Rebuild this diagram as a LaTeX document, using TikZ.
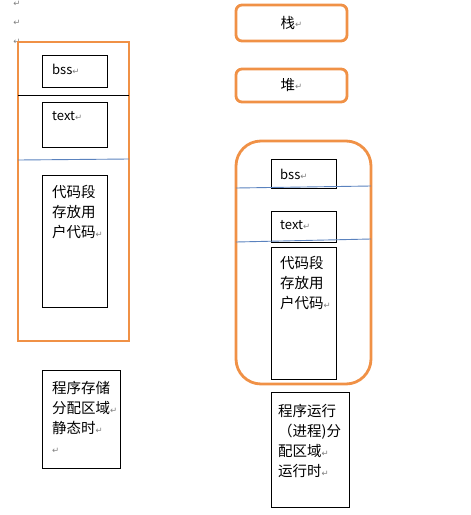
\documentclass[tikz,border=0pt]{standalone}
\usepackage{fontspec}
\setmainfont{Noto Sans CJK SC}
\newfontfamily\markfont{DejaVu Sans}
\usetikzlibrary{positioning}

\definecolor{memorange}{RGB}{240,145,70}
\definecolor{sepblue}{RGB}{90,130,190}
\newcommand{\pmark}{{\markfont\color{gray}\fontsize{8.5}{8.5}\selectfont ↵}}

\begin{document}
\begin{tikzpicture}[%
      x=1pt, y=-1pt,                          % pixel-like coordinates
      font=\fontsize{14.5}{20}\selectfont,
      node distance=9pt and 10pt,
      ]
  \tikzset{
    mem/.style={draw=memorange, line width=2.8pt, anchor=north west, outer sep=0pt, inner sep=0pt},
    seg/.style={draw, line width=0.8pt, anchor=north west, outer sep=0pt, inner sep=0pt},
    txt/.style={inner sep=0pt, align=left},
    lat/.style={txt, font=\fontsize{13}{16}\selectfont},
    blacksep/.style={draw, line width=0.8pt},
    bluesep/.style={draw=sepblue, line width=0.9pt},
  }
  \useasboundingbox (0,0) rectangle (471,515);

  % Paragraph marks
  \node [txt] (pm1) at (17,4)  {\pmark};
  \node [txt] (pm2) at (17,23) {\pmark};
  \node [txt] (pm3) at (17,42) {\pmark};

  % Static layout to the left
  \node [mem, minimum width=111pt, minimum height=299pt] (lmem)  at (18,42)  {};
  \node [seg, minimum width=65pt,  minimum height=32pt]  (lbss)  at (42,55)  {};
  \node [seg, minimum width=65pt,  minimum height=45pt]  (ltext) at (42,102) {};
  \node [seg, minimum width=65pt,  minimum height=132pt] (lcode) at (42,175) {};
  \node [seg, minimum width=78pt,  minimum height=98pt]  (lnote) at (42,370) {};

  \node [lat, below right=9pt and 10pt of lbss.north west]   (lbsst)  {bss\pmark};
  \node [lat, below right=9pt and 10pt of ltext.north west]  (ltextt) {text\pmark};
  \node [txt, below right=10pt and 10pt of lcode.north west] (lcodet) {代码段\\存放用\\户代码\pmark};
  \node [txt, below right=11pt and 10pt of lnote.north west] (lnotet) {程序存储\\分配区域\pmark\\静态时\pmark\\\pmark};

  \draw [blacksep] (lmem.west |- 0,95)  -- (lmem.east |- 0,95);
  \draw [bluesep]  (lmem.west |- 0,160) -- (lmem.east |- 0,159);

  % Running layout to the right
  \node [mem, rounded corners=6pt, minimum width=111pt, minimum height=36pt] (stack) at (236,5)  {\raisebox{-1pt}{栈}\pmark};
  \node [mem, rounded corners=6pt, minimum width=111pt, minimum height=33pt] (heap)  at (236,69) {\raisebox{-1pt}{堆}\pmark};

  \node [mem, rounded corners=25pt, minimum width=135pt, minimum height=243pt] (rmem) at (236,141) {};
  \node [seg, minimum width=65pt, minimum height=29pt]  (rbss)  at (271,159) {};
  \node [seg, minimum width=65pt, minimum height=31pt]  (rtext) at (271,211) {};
  \node [seg, minimum width=65pt, minimum height=132pt] (rcode) at (271,247) {};
  \node [seg, minimum width=78pt, minimum height=115pt] (rnote) at (271,392) {};

  \node [lat, below right=10pt and 9pt of rbss.north west]  (rbsst)  {bss\pmark};
  \node [lat, below right=9pt and 9pt of rtext.north west]  (rtextt) {text\pmark};
  \node [txt, below right=9pt and 9pt of rcode.north west]  (rcodet) {代码段\\存放用\\户代码\pmark};
  \node [txt, below right=12pt and 7pt of rnote.north west] (rnotet) {程序运行\\（进程)分\\配区域\pmark\\运行时\pmark};

  \draw [bluesep] (rmem.west |- 0,188) -- (rmem.east |- 0,186);
  \draw [bluesep] (rmem.west |- 0,242) -- (rmem.east |- 0,239);

\end{tikzpicture}
\end{document}
